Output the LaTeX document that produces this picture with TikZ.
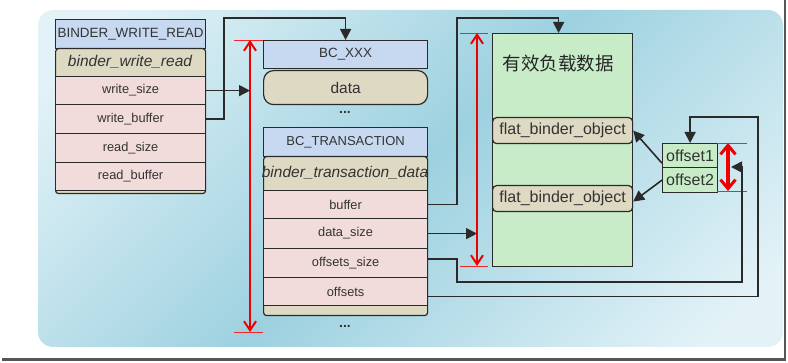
\documentclass[tikz,border=0pt]{standalone}
\usepackage{fontspec}
\setmainfont{Liberation Sans}
\newfontfamily\cjk{Noto Sans CJK SC}
\usetikzlibrary{arrows.meta,calc}
\definecolor{hdrblue}{HTML}{C6D9F1}
\definecolor{tanc}{HTML}{DDD9C3}
\definecolor{pinkc}{HTML}{F2DCDB}
\definecolor{greenc}{HTML}{C8ECC8}
\definecolor{bord}{HTML}{2A2A2A}
\definecolor{txt}{HTML}{333333}
\definecolor{pale}{HTML}{E2F2F7}
\definecolor{deep}{HTML}{9DD1E0}
\definecolor{redc}{HTML}{EE0000}
\definecolor{shadowc}{HTML}{555555}
\pgfdeclarehorizontalshading{panelshade}{100bp}{color(0bp)=(pale); color(20bp)=(pale); color(50bp)=(deep); color(80bp)=(pale); color(100bp)=(pale)}
\tikzset{
  cell/.style={draw=bord, line width=1.2pt, inner sep=0pt, anchor=north west, text=txt,
    font=\fontsize{12.8}{14}\selectfont},
  hdr/.style={cell, fill=hdrblue, font=\fontsize{13.4}{15}\selectfont},
  tanbox/.style={cell, fill=tanc},
  pinkrow/.style={cell, fill=pinkc},
  paybox/.style={cell, fill=greenc},
  flatbox/.style={cell, fill=tanc, rounded corners=4pt, font=\fontsize{16}{18}\selectfont},
  offbox/.style={cell, fill=greenc, font=\fontsize{16}{18}\selectfont},
  ititle/.style={inner sep=0pt, text=txt, font=\fontsize{15.5}{17}\selectfont\itshape},
  dotsn/.style={inner sep=0pt, text=txt, font=\fontsize{14}{15}\selectfont\bfseries},
  conn/.style={draw=bord, line width=1.6pt},
  arr/.style={conn, -{Triangle[length=11pt,width=11pt]}},
  redv/.style={draw=redc, line width=1.9pt,
    {Straight Barb[length=9pt,width=12pt,line width=2pt]}-{Straight Barb[length=9pt,width=12pt,line width=2pt]}},
  redthick/.style={draw=redc, line width=3.2pt,
    {Straight Barb[length=9pt,width=15pt,line width=3pt]}-{Straight Barb[length=9pt,width=15pt,line width=3pt]}},
  redtick/.style={draw=redc!85, line width=0.8pt},
}
\begin{document}
\begin{tikzpicture}[x=1pt,y=-1pt]
\useasboundingbox (0,0) rectangle (788,363);
% panel
\path[shading=panelshade, shading angle=-45, rounded corners=15pt] (38,10) rectangle (783,347);
\draw[shadowc, line width=2.5pt] (2,359.5) -- (785.5,359.5);
\draw[shadowc, line width=2pt] (785,0) -- (785,359.5);

% left struct
\node[hdr, minimum width=150, minimum height=29] (bwr) at (55,19) {BINDER\_WRITE\_READ};
\node[tanbox, minimum width=150, minimum height=145, rounded corners=3pt] (bwrc) at (55,48) {};
\node[ititle] (bwrt) at (130,62) {binder\_write\_read};
\node[pinkrow, minimum width=150, minimum height=28] (ws) at (55,76) {write\_size};
\node[pinkrow, minimum width=150, minimum height=29] (wb) at (55,104) {write\_buffer};
\node[pinkrow, minimum width=150, minimum height=29] (rs) at (55,133) {read\_size};
\node[pinkrow, minimum width=150, minimum height=28] (rb) at (55,162) {read\_buffer};

% middle
\node[hdr, minimum width=164, minimum height=28] (bcx) at (263,40) {BC\_XXX};
\node[tanbox, minimum width=164, minimum height=34, rounded corners=10pt, font=\fontsize{15.5}{17}\selectfont] (data) at (263,70) {data};
\node[dotsn] (d1) at (345,112) {...};
\node[hdr, minimum width=164, minimum height=29, font=\fontsize{13}{15}\selectfont] (bct) at (263,127) {BC\_TRANSACTION};
\node[tanbox, minimum width=164, minimum height=159, rounded corners=3pt] (btdc) at (263,156) {};
\node[ititle] (btdt) at (345,173) {binder\_transaction\_data};
\node[pinkrow, minimum width=164, minimum height=28] (buf) at (263,190) {buffer};
\node[pinkrow, minimum width=164, minimum height=30] (ds) at (263,218) {data\_size};
\node[pinkrow, minimum width=164, minimum height=29] (os) at (263,248) {offsets\_size};
\node[pinkrow, minimum width=164, minimum height=28] (of) at (263,277) {offsets};
\node[dotsn] (d2) at (345,326) {...};

% right
\node[paybox, minimum width=140, minimum height=233] (pay) at (492,33) {};
\node[inner sep=0pt, text=black!85, font=\cjk\fontsize{18.5}{20}\selectfont] (payt) at (558,63) {有效负载数据};
\node[flatbox, minimum width=140, minimum height=26] (flat1) at (492,117) {flat\_binder\_object};
\node[flatbox, minimum width=140, minimum height=26] (flat2) at (492,185) {flat\_binder\_object};
\node[offbox, minimum width=55, minimum height=24] (off1) at (662,143) {offset1};
\node[offbox, minimum width=55, minimum height=25] (off2) at (662,167) {offset2};

% red measures
\coordinate (r1t) at (250,40);
\coordinate (r1b) at (250,332);
\draw[redtick] ([xshift=-16]r1t) -- ([xshift=13]r1t);
\draw[redtick] ([xshift=-16]r1b) -- ([xshift=13]r1b);
\draw[redv] (r1b) -- (r1t);
\coordinate (r2t) at (477,33);
\coordinate (r2b) at (477,266);
\draw[redtick] ([xshift=-17]r2t) -- ([xshift=11]r2t);
\draw[redtick] ([xshift=-17]r2b) -- ([xshift=11]r2b);
\draw[redv] (r2b) -- (r2t);
\coordinate (r3t) at (728,143);
\coordinate (r3b) at (728,191);
\draw[redtick] ([xshift=-11]r3t) -- ([xshift=19]r3t);
\draw[redtick] ([xshift=-11]r3b) -- ([xshift=19]r3b);
\draw[redthick] (r3b) -- (r3t);
\coordinate (r3m) at (731,167);

% connectors
\coordinate (wbj) at (224,18);
\coordinate (bj) at (457,18);
\coordinate (oj1) at (457,282);
\coordinate (oj2) at (742,282);
\coordinate (fj) at (758,117);
\draw[arr] (ws.east) -- (ws.east -| r1t);
\draw[arr] (wb.east) -| (wbj) -| (bcx.north);
\draw[arr] (buf.east) -| (bj) -| ([xshift=-4]pay.north);
\draw[arr] (ds.east) -- (ds.east -| r2t);
\draw[arr] ([yshift=4]os.east) -| (oj1) -- (oj2) |- (r3m);
\draw[arr] ([yshift=-5]of.east) -| (fj) -| (off1.north);
\draw[arr] ([yshift=5]off1.south west) -- (flat1.east);
\draw[arr] (off2.west) -- ([yshift=-3]flat2.east);
\end{tikzpicture}
\end{document}
